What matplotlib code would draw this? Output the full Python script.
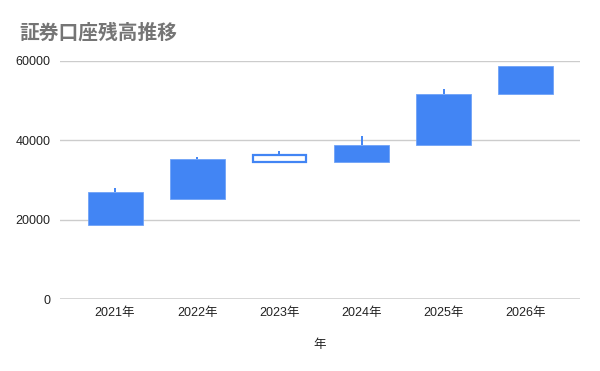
import matplotlib
matplotlib.use("Agg")
import matplotlib.pyplot as plt

# Yearly balance data (open / close / high / low)
years = ["2021年", "2022年", "2023年", "2024年", "2025年", "2026年"]
open_vals = [18600, 25300, 36200, 34500, 38800, 51700]
close_vals = [26900, 35300, 34400, 38900, 51600, 58700]
high_vals = [27900, 35900, 37300, 41100, 52900, 58700]
low_vals = [18600, 25300, 34400, 34500, 38800, 51700]

title = "証券口座残高推移"
x_title = "年"
y_ticks = [0, 20000, 40000, 60000]

blue = "#4285F4"
fonts = ["Liberation Sans", "Noto Sans CJK JP", "DejaVu Sans"]
plt.rcParams["font.family"] = fonts

fig = plt.figure(figsize=(6, 3.71), dpi=100)
ax = fig.add_axes([0.1, 0.194, 0.867, 0.642])

xs = list(range(len(years)))
width = 0.67
for x, o, c, h, l in zip(xs, open_vals, close_vals, high_vals, low_vals):
    lo, hi = min(o, c), max(o, c)
    ax.vlines(x, hi, h, color=blue, linewidth=1.4, zorder=2)
    ax.vlines(x, l, lo, color=blue, linewidth=1.4, zorder=2)
    if c >= o:
        ax.bar(x, hi - lo, bottom=lo, width=width, color=blue,
               edgecolor="#6fa3f7", linewidth=0.6, zorder=3)
    else:
        ax.bar(x, hi - lo, bottom=lo, width=width - 0.02, color="white",
               edgecolor=blue, linewidth=1.6, zorder=3)

ax.set_xlim(-0.67, len(years) - 1 + 0.66)
ax.set_ylim(0, 60000)
ax.set_yticks(y_ticks)
ax.set_yticklabels([str(v) for v in y_ticks])
ax.set_xticks(xs)
ax.set_xticklabels(years)

for v in y_ticks[1:]:
    ax.axhline(v, color="#cccccc", linewidth=1.0, zorder=0)
ax.axhline(0, color="#333333", linewidth=1.0, zorder=1)

for s in ax.spines.values():
    s.set_visible(False)
ax.tick_params(axis="both", length=0, labelsize=9, colors="#222222")
ax.tick_params(axis="y", pad=7)
ax.tick_params(axis="x", pad=6)

ax.set_xlabel(x_title, fontsize=9, color="#222222", labelpad=14)

fig.text(0.033, 0.912, title, fontsize=14.2, color="#757575",
         fontweight="bold", family=["Noto Sans CJK JP", "DejaVu Sans"],
         va="center", ha="left")

fig.savefig("out.png", dpi=100, facecolor="white")
